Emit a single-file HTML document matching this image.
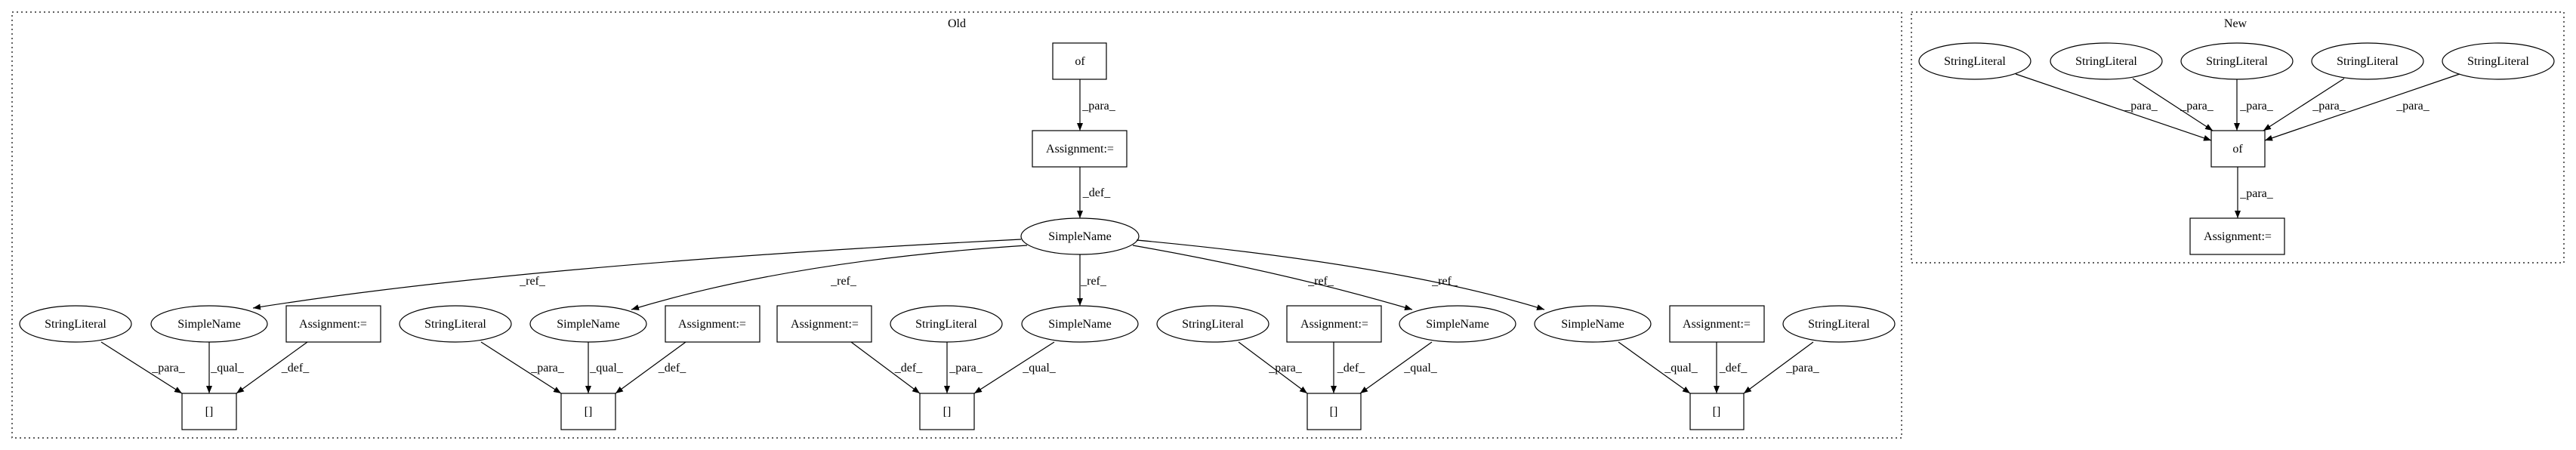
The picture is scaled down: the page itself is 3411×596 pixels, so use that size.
<!DOCTYPE html>
<html><head><meta charset="utf-8"><style>
html,body{margin:0;padding:0;background:#fff;}
svg{display:block;}
text{font-family:"Liberation Serif",serif;font-size:16px;fill:#000;}
</style></head><body>
<svg width="3411" height="596" viewBox="0 0 3411 596" xmlns="http://www.w3.org/2000/svg">
<defs><marker id="a" markerWidth="10" markerHeight="8" refX="10" refY="4" orient="auto" markerUnits="userSpaceOnUse"><path d="M0,0 L10,4 L0,8 z" fill="#000"/></marker></defs>
<g fill="none" stroke="#000" stroke-width="1.2" stroke-dasharray="2,4">
<rect x="16" y="16" width="2502" height="564"/>
<rect x="2531" y="16" width="864" height="332"/>
</g>
<g text-anchor="middle">
<text x="1267" y="36">Old</text>
<text x="2960" y="36">New</text>
</g>
<g fill="#fff" stroke="#000" stroke-width="1.2">
<rect x="1394" y="57" width="71" height="48"/>
<rect x="1367" y="173" width="125" height="48"/>
<ellipse cx="1430" cy="313" rx="78" ry="24"/>
<ellipse cx="100" cy="429" rx="74" ry="24"/>
<ellipse cx="277" cy="429" rx="77" ry="24"/>
<rect x="379" y="405" width="125" height="48"/>
<ellipse cx="603" cy="429" rx="74" ry="24"/>
<ellipse cx="779" cy="429" rx="77" ry="24"/>
<rect x="881" y="405" width="125" height="48"/>
<rect x="1029" y="405" width="125" height="48"/>
<ellipse cx="1253" cy="429" rx="74" ry="24"/>
<ellipse cx="1430" cy="429" rx="77" ry="24"/>
<ellipse cx="1606" cy="429" rx="74" ry="24"/>
<rect x="1704" y="405" width="125" height="48"/>
<ellipse cx="1930" cy="429" rx="77" ry="24"/>
<ellipse cx="2109" cy="429" rx="77" ry="24"/>
<rect x="2211" y="405" width="125" height="48"/>
<ellipse cx="2435" cy="429" rx="74" ry="24"/>
<rect x="241" y="521" width="72" height="48"/>
<rect x="743" y="521" width="72" height="48"/>
<rect x="1218" y="521" width="72" height="48"/>
<rect x="1731" y="521" width="71" height="48"/>
<rect x="2238" y="521" width="71" height="48"/>
<ellipse cx="2615" cy="81" rx="74" ry="24"/>
<ellipse cx="2789" cy="81" rx="74" ry="24"/>
<ellipse cx="2962" cy="81" rx="74" ry="24"/>
<ellipse cx="3135" cy="81" rx="74" ry="24"/>
<ellipse cx="3308" cy="81" rx="74" ry="24"/>
<rect x="2928" y="173" width="71" height="48"/>
<rect x="2900" y="289" width="125" height="48"/>
</g>
<g text-anchor="middle">
<text x="1430" y="86">of</text>
<text x="1430" y="202">Assignment:=</text>
<text x="1430" y="318">SimpleName</text>
<text x="100" y="434">StringLiteral</text>
<text x="277" y="434">SimpleName</text>
<text x="441" y="434">Assignment:=</text>
<text x="603" y="434">StringLiteral</text>
<text x="779" y="434">SimpleName</text>
<text x="943" y="434">Assignment:=</text>
<text x="1092" y="434">Assignment:=</text>
<text x="1253" y="434">StringLiteral</text>
<text x="1430" y="434">SimpleName</text>
<text x="1606" y="434">StringLiteral</text>
<text x="1767" y="434">Assignment:=</text>
<text x="1930" y="434">SimpleName</text>
<text x="2109" y="434">SimpleName</text>
<text x="2273" y="434">Assignment:=</text>
<text x="2435" y="434">StringLiteral</text>
<text x="277" y="550">[]</text>
<text x="779" y="550">[]</text>
<text x="1254" y="550">[]</text>
<text x="1766" y="550">[]</text>
<text x="2273" y="550">[]</text>
<text x="2615" y="86">StringLiteral</text>
<text x="2789" y="86">StringLiteral</text>
<text x="2962" y="86">StringLiteral</text>
<text x="3135" y="86">StringLiteral</text>
<text x="3308" y="86">StringLiteral</text>
<text x="2963" y="202">of</text>
<text x="2963" y="318">Assignment:=</text>
</g>
<g fill="none" stroke="#000" stroke-width="1.2" marker-end="url(#a)">
<line x1="1430" y1="105" x2="1430" y2="173"/>
<line x1="1430" y1="221" x2="1430" y2="289"/>
<path d="M1352,317 Q700,350 335,408"/>
<path d="M1360,325 Q1050,345 836,410"/>
<line x1="1430" y1="337" x2="1430" y2="405"/>
<path d="M1500,325 Q1700,360 1870,410"/>
<path d="M1505,318 Q1850,350 2045,410"/>
<line x1="134" y1="453" x2="241" y2="521"/>
<line x1="277" y1="453" x2="277" y2="521"/>
<line x1="407" y1="453" x2="313" y2="521"/>
<line x1="637" y1="453" x2="743" y2="521"/>
<line x1="779" y1="453" x2="779" y2="521"/>
<line x1="908" y1="453" x2="815" y2="521"/>
<line x1="1127" y1="453" x2="1218" y2="521"/>
<line x1="1254" y1="453" x2="1254" y2="521"/>
<line x1="1396" y1="453" x2="1290" y2="521"/>
<line x1="1640" y1="453" x2="1731" y2="521"/>
<line x1="1766" y1="453" x2="1766" y2="521"/>
<line x1="1896" y1="453" x2="1801" y2="521"/>
<line x1="2143" y1="453" x2="2238" y2="521"/>
<line x1="2273" y1="453" x2="2273" y2="521"/>
<line x1="2401" y1="453" x2="2309" y2="521"/>
<line x1="2669" y1="98" x2="2928" y2="186"/>
<line x1="2824" y1="104" x2="2930" y2="173"/>
<line x1="2962" y1="105" x2="2962" y2="173"/>
<line x1="3104" y1="104" x2="2997" y2="173"/>
<line x1="3257" y1="98" x2="2999" y2="186"/>
<line x1="2963" y1="221" x2="2963" y2="289"/>
</g>
<g text-anchor="middle">
<text x="1455" y="145">_para_</text>
<text x="1452" y="260">_def_</text>
<text x="705" y="377">_ref_</text>
<text x="1117" y="377">_ref_</text>
<text x="1448" y="377">_ref_</text>
<text x="1749" y="377">_ref_</text>
<text x="1913" y="377">_ref_</text>
<text x="223" y="492">_para_</text>
<text x="301" y="492">_qual_</text>
<text x="391" y="492">_def_</text>
<text x="725" y="492">_para_</text>
<text x="803" y="492">_qual_</text>
<text x="890" y="492">_def_</text>
<text x="1203" y="492">_def_</text>
<text x="1279" y="492">_para_</text>
<text x="1376" y="492">_qual_</text>
<text x="1702" y="492">_para_</text>
<text x="1789" y="492">_def_</text>
<text x="1881" y="492">_qual_</text>
<text x="2226" y="492">_qual_</text>
<text x="2295" y="492">_def_</text>
<text x="2387" y="492">_para_</text>
<text x="2835" y="145">_para_</text>
<text x="2909" y="145">_para_</text>
<text x="2988" y="145">_para_</text>
<text x="3084" y="145">_para_</text>
<text x="3195" y="145">_para_</text>
<text x="2988" y="261">_para_</text>
</g>
</svg>
</body></html>
